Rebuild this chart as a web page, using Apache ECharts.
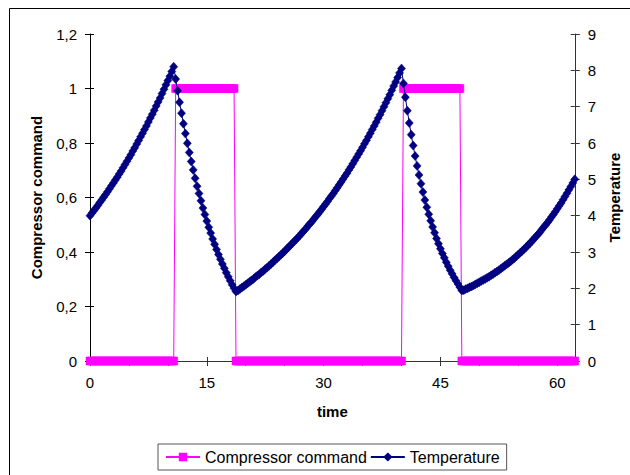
<!DOCTYPE html>
<html>
<head>
<meta charset="utf-8">
<script src="https://cdn.jsdelivr.net/npm/echarts@6/dist/echarts.min.js"></script>
<style>
html,body{margin:0;padding:0;background:#fff;}
#chart{width:630px;height:475px;}
</style>
</head>
<body>
<div id="chart"></div>
<script>
// Sample spacing of the time axis (time units between consecutive samples)
const timeStep = 0.25;

// Temperature readings (right axis), one per sample
const temperature = [
  4.00,4.07,4.14,4.21,4.28,4.36,4.43,4.51,4.58,4.66,4.74,4.82,4.90,4.98,5.06,5.15,5.23,5.32,5.41,5.50,
  5.59,5.68,5.78,5.87,5.97,6.07,6.17,6.27,6.37,6.47,6.58,6.69,6.79,6.90,7.02,7.13,7.24,7.36,7.48,7.60,
  7.72,7.84,7.97,8.10,
  7.76,7.44,7.12,6.82,6.53,6.26,5.99,5.74,5.49,5.26,5.03,4.81,4.61,4.41,4.21,4.03,3.85,3.68,3.52,3.36,
  3.21,3.07,2.93,2.80,2.67,2.55,2.43,2.32,2.21,2.10,2.00,1.91,
  1.94,1.98,2.02,2.06,2.10,2.14,2.18,2.22,2.26,2.31,
  2.35,2.39,2.44,2.48,2.53,2.57,2.62,2.67,2.72,2.77,
  2.82,2.87,2.92,2.97,3.02,3.08,3.13,3.19,3.24,3.30,
  3.35,3.41,3.47,3.53,3.59,3.65,3.72,3.78,3.84,3.91,
  3.98,4.04,4.11,4.18,4.25,4.32,4.39,4.47,4.54,4.61,
  4.69,4.77,4.85,4.93,5.01,5.09,5.17,5.26,5.34,5.43,
  5.52,5.61,5.70,5.79,5.88,5.98,6.07,6.17,6.27,6.37,
  6.47,6.57,6.68,6.78,6.89,7.00,7.11,7.22,7.33,7.45,
  7.57,7.68,7.80,7.93,8.05,
  7.64,7.26,6.89,6.55,6.23,5.93,5.64,5.37,5.12,4.88,4.65,4.43,4.23,4.04,3.86,3.69,3.53,3.37,3.23,3.09,
  2.96,2.84,2.72,2.61,2.50,2.40,2.30,2.21,2.12,2.03,1.94,
  1.95,1.98,2.00,2.03,2.05,2.08,2.11,2.14,2.17,2.20,
  2.23,2.26,2.29,2.32,2.36,2.39,2.43,2.46,2.50,2.54,
  2.58,2.62,2.66,2.70,2.74,2.79,2.83,2.88,2.93,2.98,
  3.03,3.08,3.13,3.19,3.24,3.30,3.36,3.42,3.48,3.54,
  3.61,3.68,3.74,3.81,3.88,3.96,4.03,4.11,4.19,4.27,
  4.35,4.44,4.53,4.62,4.71,4.80,4.90,5.00
];

// Compressor command (left axis), one per sample
const compressor = [
  0,0,0,0,0,0,0,0,0,0, 0,0,0,0,0,0,0,0,0,0, 0,0,0,0,0,0,0,0,0,0, 0,0,0,0,0,0,0,0,0,0, 0,0,0,0,
  1,1,1,1,1,1,1,1,1,1, 1,1,1,1,1,1,1,1,1,1, 1,1,1,1,1,1,1,1,1,1, 1,
  0,0,0,0,0,0,0,0,0,0, 0,0,0,0,0,0,0,0,0,0, 0,0,0,0,0,0,0,0,0,0, 0,0,0,0,0,0,0,0,0,0,
  0,0,0,0,0,0,0,0,0,0, 0,0,0,0,0,0,0,0,0,0, 0,0,0,0,0,0,0,0,0,0, 0,0,0,0,0,0,0,0,0,0, 0,0,0,0,0,0,
  1,1,1,1,1,1,1,1,1,1, 1,1,1,1,1,1,1,1,1,1, 1,1,1,1,1,1,1,1,1,1,
  0,0,0,0,0,0,0,0,0,0, 0,0,0,0,0,0,0,0,0,0, 0,0,0,0,0,0,0,0,0,0, 0,0,0,0,0,0,0,0,0,0,
  0,0,0,0,0,0,0,0,0,0, 0,0,0,0,0,0,0,0,0
];

// Axis ranges / tick labels
const xRange = [0, 62.25];
const xTickStep = 5;
const xLabelStep = 15;
const leftRange = [0, 1.2];
const leftStep = 0.2;
const rightRange = [0, 9];
const rightStep = 1;

const seriesNames = ['Compressor command', 'Temperature'];
const axisTitles = { x: 'time', left: 'Compressor command', right: 'Temperature' };

const compData = compressor.map((v, i) => [i * timeStep, v]);
const tempData = temperature.map((v, i) => [i * timeStep, v]);

const FONT = "'Liberation Sans', Arial, sans-serif";
const chart = echarts.init(document.getElementById('chart'), null, { renderer: 'svg', width: 630, height: 475 });

const baseTickLabel = { fontFamily: FONT, fontSize: 15, color: '#000' };

chart.setOption({
  animation: false,
  backgroundColor: '#fff',
  graphic: [{
    type: 'rect', silent: true,
    shape: { x: 9.5, y: 8.5, width: 700, height: 600 },
    style: { fill: 'none', stroke: '#000', lineWidth: 1 }
  }],
  grid: { left: 90, right: 52, top: 34, bottom: 114, containLabel: false },
  legend: {
    left: 158, top: 444,
    padding: [5, 7, 5, 7],
    itemGap: 3, itemWidth: 34, itemHeight: 8,
    borderColor: '#555', borderWidth: 1, borderRadius: 0,
    backgroundColor: '#fff',
    textStyle: { fontFamily: FONT, fontSize: 16, color: '#000' },
    data: seriesNames
  },
  xAxis: [{
    type: 'value', min: xRange[0], max: xRange[1], interval: xTickStep, position: 'bottom',
    name: axisTitles.x, nameLocation: 'middle', nameGap: 43,
    nameTextStyle: { fontFamily: FONT, fontSize: 15, fontWeight: 'bold', color: '#000' },
    axisLine: { onZero: false, lineStyle: { color: '#333', width: 1 } },
    axisTick: { inside: false, length: 5, lineStyle: { color: '#333' } },
    axisLabel: {
      ...baseTickLabel, margin: 14, showMaxLabel: false,
      formatter: v => (Math.abs(v / xLabelStep - Math.round(v / xLabelStep)) < 1e-9 ? String(Math.round(v)) : '')
    },
    splitLine: { show: false }
  }, {
    type: 'value', min: xRange[0], max: xRange[1], interval: xTickStep, position: 'bottom',
    axisLine: { show: false, onZero: false },
    axisTick: { inside: true, length: 4, lineStyle: { color: '#333' } },
    axisLabel: { show: false },
    splitLine: { show: false }
  }],
  yAxis: [{
    type: 'value', position: 'left', min: leftRange[0], max: leftRange[1], interval: leftStep,
    name: axisTitles.left, nameLocation: 'middle', nameGap: 46, nameRotate: 90,
    nameTextStyle: { fontFamily: FONT, fontSize: 15, fontWeight: 'bold', color: '#000' },
    axisLine: { show: true, onZero: false, lineStyle: { color: '#000', width: 1 } },
    axisTick: { show: true, inside: false, length: 5, lineStyle: { color: '#000' } },
    axisLabel: { ...baseTickLabel, margin: 13, formatter: v => String(Number(v.toFixed(1))).replace('.', ',') },
    splitLine: { show: false }
  }, {
    type: 'value', position: 'left', min: leftRange[0], max: leftRange[1], interval: leftStep,
    axisLine: { show: false, onZero: false },
    axisTick: { show: true, inside: true, length: 4, lineStyle: { color: '#000' } },
    axisLabel: { show: false },
    splitLine: { show: false }
  }, {
    type: 'value', position: 'right', min: rightRange[0], max: rightRange[1], interval: rightStep,
    name: axisTitles.right, nameLocation: 'middle', nameGap: 32, nameRotate: 90,
    nameTextStyle: { fontFamily: FONT, fontSize: 15, fontWeight: 'bold', color: '#000' },
    axisLine: { show: true, onZero: false, lineStyle: { color: '#333', width: 1 } },
    axisTick: { show: true, inside: false, length: 5, lineStyle: { color: '#333' } },
    axisLabel: { ...baseTickLabel, margin: 13 },
    splitLine: { show: false }
  }, {
    type: 'value', position: 'right', min: rightRange[0], max: rightRange[1], interval: rightStep,
    axisLine: { show: false, onZero: false },
    axisTick: { show: true, inside: true, length: 4, lineStyle: { color: '#333' } },
    axisLabel: { show: false },
    splitLine: { show: false }
  }],
  series: [{
    name: seriesNames[0], type: 'line', xAxisIndex: 0, yAxisIndex: 0,
    data: compData, showAllSymbol: true, symbol: 'rect', symbolSize: 8,
    itemStyle: { color: '#FF00FF', borderColor: '#FF00FF', borderWidth: 0.5 },
    lineStyle: { color: '#FF00FF', width: 1 },
    emphasis: { disabled: true }, z: 2
  }, {
    name: seriesNames[1], type: 'line', xAxisIndex: 0, yAxisIndex: 2,
    data: tempData, showAllSymbol: true, symbol: 'diamond', symbolSize: [8, 9],
    itemStyle: { color: '#000080', borderColor: '#000080', borderWidth: 0.5 },
    lineStyle: { color: '#000080', width: 1 },
    emphasis: { disabled: true }, z: 3
  }]
});
</script>
</body>
</html>
